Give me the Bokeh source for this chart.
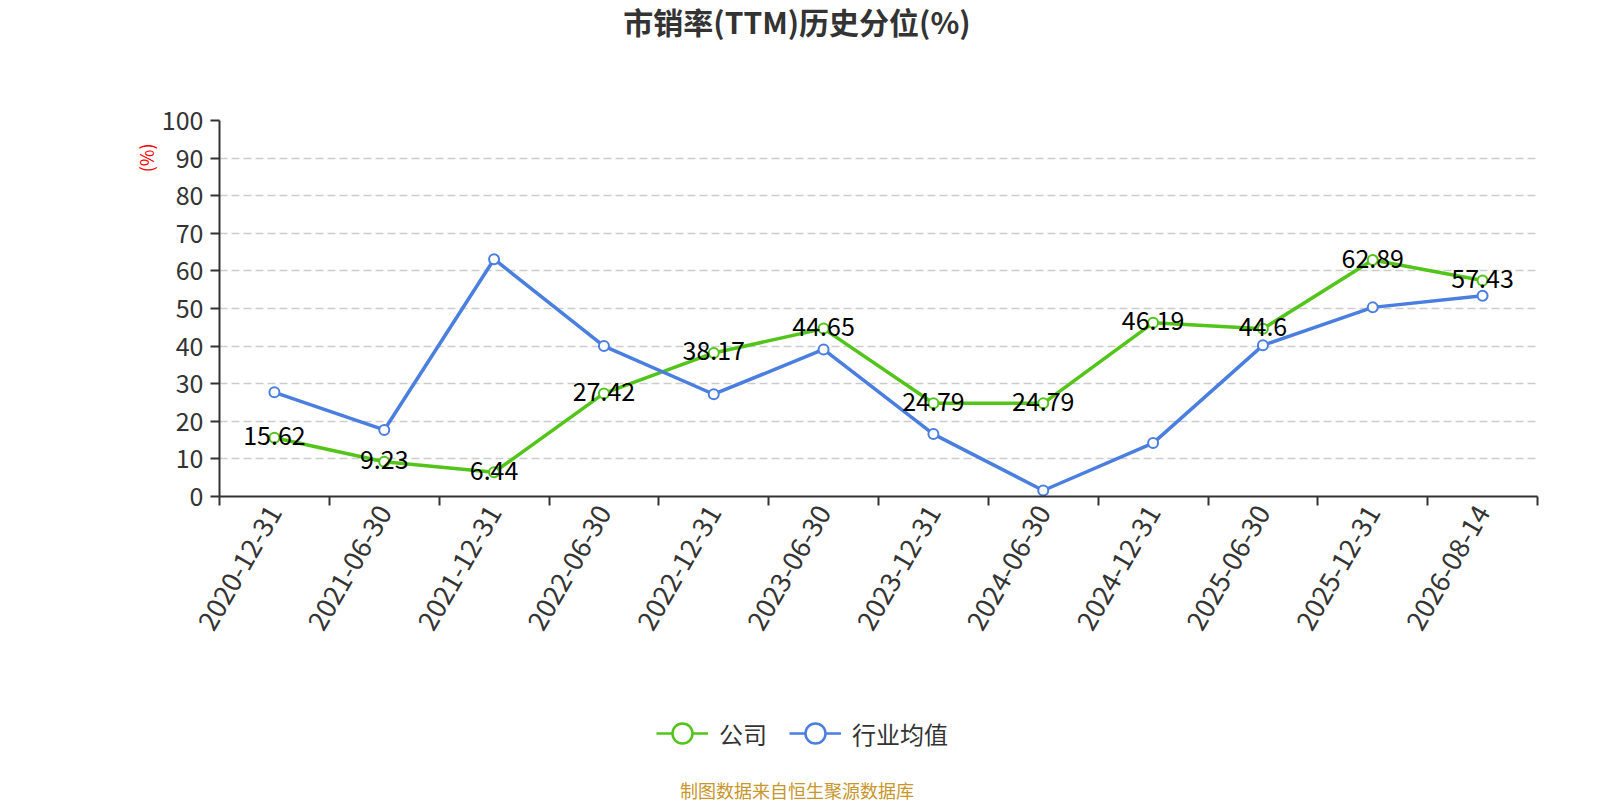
import math
from bokeh.plotting import figure
from bokeh.layouts import column
from bokeh.models import ColumnDataSource, Range1d, FixedTicker, Legend, LegendItem, Title, Div
from bokeh.embed import file_html
from bokeh.resources import INLINE
from bokeh.core.properties import value

# ---- data ----
dates = ["2020-12-31", "2021-06-30", "2021-12-31", "2022-06-30", "2022-12-31", "2023-06-30",
         "2023-12-31", "2024-06-30", "2024-12-31", "2025-06-30", "2025-12-31", "2026-08-14"]
company = [15.62, 9.23, 6.44, 27.42, 38.17, 44.65, 24.79, 24.79, 46.19, 44.6, 62.89, 57.43]
industry = [27.7, 17.7, 63.1, 40.0, 27.2, 39.1, 16.6, 1.6, 14.2, 40.2, 50.3, 53.4]
y_ticks = [0, 10, 20, 30, 40, 50, 60, 70, 80, 90, 100]
series_names = ["公司", "行业均值"]
title_text = "市销率(TTM)历史分位(%)"
footer_text = "制图数据来自恒生聚源数据库"
y_unit = "(%)"

FONT = "Noto Sans CJK SC"
GREEN = "#52c41a"
BLUE = "#4a7fe0"
TXT = "#333333"

W = 1584
TITLE_H = 40
FL, FR, FT, FB = 219, 1537, 110, 486      # frame box in page pixels
P_H = 609
LEG_H = 112
FOOT_H = 23
P_BOTTOM = TITLE_H + P_H

n = len(dates)
xs = list(range(n))
src = ColumnDataSource(dict(x=xs, company=company, industry=industry,
                            lab=[f"{v:g}" for v in company]))

title_div = Div(text=title_text, width=W, height=TITLE_H,
                styles={"text-align": "center", "font-size": "30px", "font-weight": "bold",
                        "font-family": FONT, "color": TXT, "line-height": "32px",
                        "width": f"{W}px"})

p = figure(width=W, height=P_H, output_backend="svg", toolbar_location=None,
           x_range=Range1d(-0.5, n - 0.5), y_range=Range1d(y_ticks[0], y_ticks[-1]),
           min_border_left=FL, min_border_right=W - FR, min_border_top=FT - TITLE_H,
           min_border_bottom=P_BOTTOM - FB)
p.outline_line_color = None
p.background_fill_color = "white"
p.border_fill_color = "white"

# x axis
p.xaxis.ticker = FixedTicker(ticks=xs, minor_ticks=[i - 0.5 for i in range(n + 1)])
p.xaxis.major_label_overrides = {i: d for i, d in enumerate(dates)}
p.xaxis.major_label_orientation = math.pi / 3
p.xaxis.major_tick_line_color = None
p.xaxis.major_tick_in = 0
p.xaxis.major_tick_out = 9
p.xaxis.minor_tick_in = 0
p.xaxis.minor_tick_out = 9
p.xaxis.minor_tick_line_color = TXT
p.xaxis.minor_tick_line_width = 2
p.xaxis.axis_line_color = TXT
p.xaxis.axis_line_width = 2
p.xaxis.major_label_standoff = 2
p.xaxis.major_label_text_font = FONT
p.xaxis.major_label_text_font_size = "27px"
p.xaxis.major_label_text_color = TXT

# y axis
p.yaxis.ticker = FixedTicker(ticks=y_ticks)
p.yaxis.major_tick_in = 0
p.yaxis.major_tick_out = 9
p.yaxis.major_tick_line_color = TXT
p.yaxis.major_tick_line_width = 2
p.yaxis.minor_tick_line_color = None
p.yaxis.axis_line_color = TXT
p.yaxis.axis_line_width = 2
p.yaxis.major_label_standoff = 7
p.yaxis.major_label_text_font = FONT
p.yaxis.major_label_text_font_size = "25px"
p.yaxis.major_label_text_color = TXT

p.xgrid.grid_line_color = None
p.ygrid.ticker = FixedTicker(ticks=y_ticks)
p.ygrid.grid_line_color = "#cccccc"
p.ygrid.grid_line_dash = "8 4"
p.ygrid.grid_line_width = 1.5

# series
p.line(x="x", y="company", source=src, line_color=GREEN, line_width=3.5)
p.scatter(x="x", y="company", source=src, size=10, fill_color="white",
          line_color=GREEN, line_width=2)
p.line(x="x", y="industry", source=src, line_color=BLUE, line_width=3.5)
p.scatter(x="x", y="industry", source=src, size=10, fill_color="white",
          line_color=BLUE, line_width=2)

p.text(x="x", y="company", text="lab", source=src, text_align="center",
       text_baseline="middle", text_font=value(FONT), text_font_size="25px",
       text_color="black", y_offset=-2)

# unit label on the left, near the top
p.add_layout(Title(text=y_unit, align="right", offset=23, standoff=0, text_font=FONT,
                   text_font_size="18px", text_font_style="normal", text_color="red"), "left")

# legend strip (its frame is aligned with the main plot's frame)
lg = figure(width=W, height=LEG_H, output_backend="svg", toolbar_location=None,
            x_range=Range1d(0, 1), y_range=Range1d(0, 1),
            min_border_left=0, min_border_right=0, min_border_top=0, min_border_bottom=0)
lg.axis.visible = False
lg.grid.visible = False
lg.outline_line_color = None
off = ColumnDataSource(dict(x=[5, 6], y=[5, 6]))   # outside the ranges: legend glyphs only
gl = lg.line(x="x", y="y", source=off, line_color=GREEN, line_width=2.5)
gs = lg.scatter(x="x", y="y", source=off, size=10, fill_color="white", line_color=GREEN, line_width=2.5)
bl = lg.line(x="x", y="y", source=off, line_color=BLUE, line_width=2.5)
bs = lg.scatter(x="x", y="y", source=off, size=10, fill_color="white", line_color=BLUE, line_width=2.5)
leg_center_from_top = 723 - P_BOTTOM
legend = Legend(items=[LegendItem(label=series_names[0], renderers=[gl, gs]),
                       LegendItem(label=series_names[1], renderers=[bl, bs])],
                orientation="horizontal", location=(656 - FL, LEG_H - leg_center_from_top - 25),
                padding=0, margin=0, spacing=22, label_standoff=11,
                glyph_width=52, glyph_height=50,
                border_line_color=None, background_fill_alpha=0,
                label_text_font=FONT, label_text_font_size="24px", label_text_color=TXT)
lg.add_layout(legend)

footer_div = Div(text=footer_text, width=W, height=FOOT_H,
                 styles={"text-align": "center", "font-size": "18px", "font-family": FONT,
                         "color": "#c8962a", "line-height": "28px", "width": f"{W}px"})

page = column(title_div, p, lg, footer_div, spacing=0)
open("out.html", "w").write(file_html(page, INLINE))
